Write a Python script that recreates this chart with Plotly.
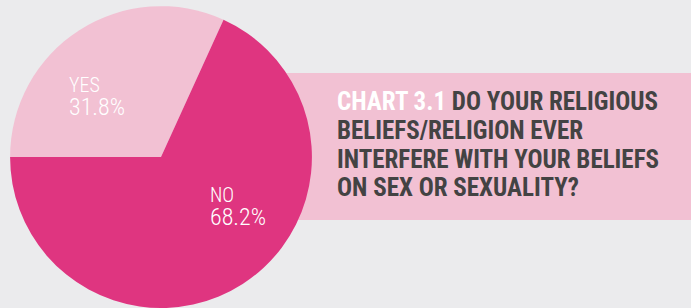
import plotly.graph_objects as go

labels = ["YES", "NO"]
values = [31.8, 68.2]
colors = ["#f2c1d3", "#df3580"]
chart_no = "CHART 3.1"
title_lines = ["DO YOUR RELIGIOUS", "BELIEFS/RELIGION EVER", "INTERFERE WITH YOUR BELIEFS", "ON SEX OR SEXUALITY?"]

W, H = 691, 308
FONT = "Roboto Condensed, DejaVu Sans Condensed, sans-serif"
fig = go.Figure()
fig.add_trace(go.Pie(
    labels=labels, values=values, sort=False, direction="clockwise", rotation=270,
    marker=dict(colors=colors, line=dict(width=0)),
    textinfo="none", hoverinfo="label+percent", showlegend=False,
    domain=dict(x=[10/W, 312/W], y=[0, 0.98]),
))

fig.add_shape(type="rect", xref="paper", yref="paper", x0=250/W, x1=1, y0=(H-220)/H, y1=(H-73)/H,
              fillcolor="#f2c1d3", line=dict(width=0), layer="below")

def ann(x, y, text, size, color="white", weight=None):
    f = dict(family=FONT, size=size, color=color)
    if weight:
        f["weight"] = weight
    fig.add_annotation(x=x/W, y=(H-y)/H, xref="paper", yref="paper", xanchor="left", yanchor="middle",
                       text=text, showarrow=False, align="left", font=f)

# slice labels (x = left, y = block centre in px)
pos = [(67, 96.5), (208, 206.5)]
for (lx, ly), lab, v in zip(pos, labels, values):
    ann(lx, ly, f"<span style='font-size:20px'>{lab}</span><br><span style='font-size:24px'>{v:.1f}%</span>",
        17.4, weight=300)

# title block
lines = [f"<span style='color:#ffffff'>{chart_no}</span> {title_lines[0]}"] + title_lines[1:]
title = "<br>".join(f"<span style='font-size:25px'>{l}</span>" for l in lines)
ann(335, 144.5, f"<b>{title}</b>", 22.15, color="#434343")

fig.update_layout(width=W, height=H, margin=dict(l=0, r=0, t=0, b=0),
                  paper_bgcolor="#ebebed", plot_bgcolor="#ebebed")
fig.write_html("out.html", config={"displayModeBar": False},
               post_script="document.body.style.margin='0';")
